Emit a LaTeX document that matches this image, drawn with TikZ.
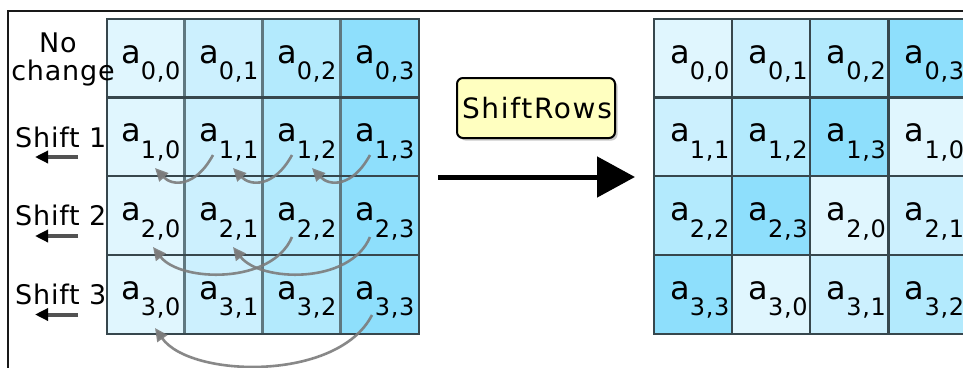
\documentclass[tikz,border=0pt]{standalone}
\usepackage{fontspec}
\setmainfont{DejaVu Sans}
\newfontfamily\sidefont{DejaVu Sans}[LetterSpace=3]
\newfontfamily\subfont{DejaVu Sans}[LetterSpace=3]
\newfontfamily\boxfont{DejaVu Sans}[LetterSpace=6]
\usetikzlibrary{arrows.meta,shadows}
\definecolor{col0}{HTML}{E0F6FE}
\definecolor{col1}{HTML}{CCF0FE}
\definecolor{col2}{HTML}{B3EAFD}
\definecolor{col3}{HTML}{8EDFFC}
\definecolor{gridc}{HTML}{37474D}
\definecolor{vgridc}{HTML}{5F7880}
\definecolor{boxfill}{HTML}{FFFFC0}
\definecolor{curvc}{HTML}{7C7C7C}
\newcommand{\cellab}[2]{{\fontsize{32}{32}\selectfont a}\raisebox{-16.5pt}{\subfont\fontsize{24}{24}\selectfont #1,#2}}
\tikzset{
  cell/.style={rectangle, inner sep=0pt, minimum width=78pt, minimum height=78.75pt},
  rcell/.style={rectangle, inner sep=0pt, minimum width=78.25pt, minimum height=78.75pt},
  lab/.style={inner sep=0pt, anchor=base west},
  side/.style={inner sep=0pt, font=\sidefont\fontsize{27}{27}\selectfont},
  gline/.style={draw=gridc, line width=2.2pt},
  vline/.style={draw=vgridc, line width=3pt},
  curv/.style={draw=curvc, line width=2.6pt, draw opacity=0.9, -{Triangle[length=13pt,width=12pt]}},
  sarr/.style={draw=black!68, line width=4pt, -{Triangle[length=13pt,width=12pt,color=black]}},
  bigarr/.style={draw=black, line width=5pt, -{Triangle[length=38pt,width=40pt]}},
  frameln/.style={draw=black!90, line width=2pt},
  srbox/.style={rectangle, rounded corners=6pt, draw=black, line width=2pt, fill=boxfill,
    minimum width=158pt, minimum height=60pt, inner xsep=5pt, inner ysep=0pt,
    drop shadow={shadow xshift=2.5pt, shadow yshift=-2.5pt, fill=black!35, opacity=0.6}}
}
\begin{document}
\begin{tikzpicture}[x=1pt,y=-1pt]
\useasboundingbox (0,0) rectangle (963,367);
\clip (0,0) rectangle (963,367);
\fill[white] (0,0) rectangle (963,367);
% frame
\coordinate (f0) at (8,11);
\coordinate (f1) at (975,11);
\coordinate (f2) at (8,380);
\draw[frameln] (f1) -- (f0) -- (f2);
% left grid cells
\foreach \r in {0,...,3}{
  \foreach \c in {0,...,3}{
    \node[cell, fill=col\c] (L\r\c) at ({107+78*\c+39},{19+78.75*\r+39.375}) {};
    \node[lab] (tL\r\c) at ({107+78*\c+14},{19+78.75*\r+44}) {\cellab{\r}{\c}};
  }
}
% right grid cells
\foreach \r in {0,...,3}{
  \foreach \c in {0,...,3}{
    \pgfmathtruncatemacro{\k}{mod(\c+\r,4)}
    \node[rcell, fill=col\k] (R\r\c) at ({654+78.25*\c+39.125},{19+78.75*\r+39.375}) {};
    \node[lab] (tR\r\c) at ({654+78.25*\c+16},{19+78.75*\r+44}) {\cellab{\r}{\k}};
  }
}
% left grid lines
\draw[vline] (L01.north west) -- (L31.south west);
\draw[vline] (L02.north west) -- (L32.south west);
\draw[vline] (L03.north west) -- (L33.south west);
\draw[gline] (L10.north west) -- (L13.north east);
\draw[gline] (L20.north west) -- (L23.north east);
\draw[gline] (L30.north west) -- (L33.north east);
\draw[gline] (L00.north west) rectangle (L33.south east);
% right grid lines
\draw[gline] (R01.north west) -- (R31.south west);
\draw[gline] (R02.north west) -- (R32.south west);
\draw[gline] (R03.north west) -- (R33.south west);
\draw[gline] (R10.north west) -- (R13.north east);
\draw[gline] (R20.north west) -- (R23.north east);
\draw[gline] (R30.north west) -- (R33.north east);
\draw[gline] (R00.north west) rectangle (R33.south east);
% side labels
\node[side, anchor=base] (nolab) at (58,52) {No};
\node[side, anchor=base] (chlab) at (63,80) {change};
\node[side, anchor=base west] (sh1) at (15,147) {Shift 1};
\node[side, anchor=base west] (sh2) at (15,225.5) {Shift 2};
\node[side, anchor=base west] (sh3) at (15,304) {Shift 3};
% small left arrows
\coordinate (a1s) at (78,157); \coordinate (a1e) at (35,157);
\coordinate (a2s) at (78,236); \coordinate (a2e) at (35,236);
\coordinate (a3s) at (78,314.5); \coordinate (a3e) at (35,314.5);
\draw[sarr] (a1s) -- (a1e);
\draw[sarr] (a2s) -- (a2e);
\draw[sarr] (a3s) -- (a3e);
% curved arrows row 1
\coordinate (s11) at (213,155); \coordinate (e10) at (155,168);
\coordinate (s12) at (292,155); \coordinate (e11) at (233,168);
\coordinate (s13) at (370,155); \coordinate (e12) at (312,168);
\draw[curv] (s11) .. controls (195,188) and (172,186) .. (e10);
\draw[curv] (s12) .. controls (274,188) and (250,186) .. (e11);
\draw[curv] (s13) .. controls (352,188) and (329,186) .. (e12);
% row 2
\coordinate (s22) at (292,237); \coordinate (e20) at (153,247);
\coordinate (s23) at (370,237); \coordinate (e21) at (233,247);
\draw[curv] (s22) .. controls (272,285) and (180,282) .. (e20);
\draw[curv] (s23) .. controls (350,285) and (260,282) .. (e21);
% row 3
\coordinate (s33) at (372,315); \coordinate (e30) at (155,328);
\draw[curv] (s33) .. controls (338,382) and (190,378) .. (e30);
% ShiftRows box and big arrow
\node[srbox] (sr) at (536,108) {\makebox[148pt][l]{\boxfont\fontsize{28}{28}\selectfont ShiftRows}};
\coordinate (m0) at (438,177);
\coordinate (m1) at (635,177);
\draw[bigarr] (m0) -- (m1);
\end{tikzpicture}
\end{document}
